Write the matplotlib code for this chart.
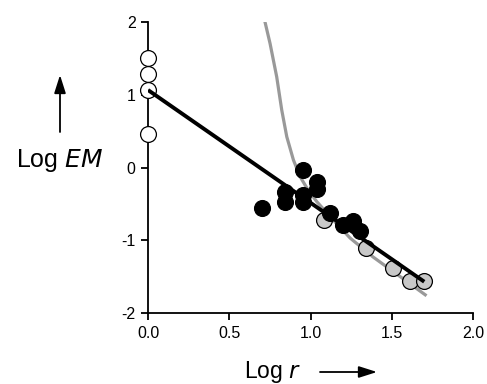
import numpy as np
import matplotlib
matplotlib.use("Agg")
import matplotlib.pyplot as plt

plt.rcParams['font.family'] = ['Liberation Sans', 'DejaVu Sans']

# open circles on the y axis
open_x = [0.0, 0.0, 0.0, 0.0]
open_y = [1.50, 1.29, 1.065, 0.46]

# filled black circles
black_x = [0.70, 0.956, 0.844, 0.844, 0.956, 0.956, 1.043, 1.043, 1.117, 1.203, 1.26, 1.305]
black_y = [-0.55, -0.03, -0.33, -0.47, -0.38, -0.48, -0.195, -0.30, -0.62, -0.79, -0.73, -0.87]

# gray circles
gray_x = [1.08, 1.34, 1.507, 1.613, 1.70]
gray_y = [-0.72, -1.10, -1.385, -1.56, -1.56]

# gray curve
curve_x = [0.710, 0.751, 0.792, 0.823, 0.854, 0.895, 0.936, 0.985, 1.039, 1.139, 1.244, 1.385, 1.552, 1.706]
curve_y = [2.095, 1.706, 1.247, 0.790, 0.423, 0.103, -0.126, -0.309, -0.47, -0.72, -0.97, -1.23, -1.50, -1.75]

# black fit line
fit_x = [0.0, 1.70]
fit_y = [1.065, -1.57]

fig = plt.figure(figsize=(4.87, 3.84), dpi=100)
ax = fig.add_axes([148/487, 1-313/384, 325/487, 291/384])

ax.plot(curve_x, curve_y, color='#999999', lw=2.3, zorder=2, solid_joinstyle='round')
ax.scatter(gray_x, gray_y, s=130, facecolor='#c8c8c8', edgecolor='black', lw=0.9, zorder=3, clip_on=False)
ax.scatter(black_x, black_y, s=130, facecolor='black', edgecolor='black', lw=0.9, zorder=4, clip_on=False)
ax.scatter(open_x, open_y, s=130, facecolor='white', edgecolor='black', lw=0.9, zorder=5, clip_on=False)
ax.plot(fit_x, fit_y, color='black', lw=2.8, zorder=6, solid_capstyle='butt')

ax.set_xlim(0, 2)
ax.set_ylim(-2, 2)
ax.set_xticks([0.0, 0.5, 1.0, 1.5, 2.0])
ax.set_xticklabels(['0.0', '0.5', '1.0', '1.5', '2.0'])
ax.set_yticks([-2, -1, 0, 1, 2])
ax.set_yticklabels(['-2', '-1', '0', '1', '2'])
for s in ['top', 'right']:
    ax.spines[s].set_visible(False)
for s in ['left', 'bottom']:
    ax.spines[s].set_linewidth(1.3)
ax.tick_params(direction='out', length=5, width=1.3, labelsize=11.5, pad=4)

fig.text(60/487, 1-160/384, 'Log $\\it{EM}$', fontsize=18, ha='center', va='center')
fig.text(273/487, 1-372/384, 'Log $\\it{r}$', fontsize=16.5, ha='center', va='center')
ax.annotate('', xy=(60/487, 1-75/384), xytext=(60/487, 1-132/384),
            xycoords='figure fraction', textcoords='figure fraction',
            arrowprops=dict(arrowstyle='-|>,head_length=1.1,head_width=0.35', color='black', lw=1.3,
                            shrinkA=0, shrinkB=0))
ax.annotate('', xy=(377/487, 1-372/384), xytext=(320/487, 1-372/384),
            xycoords='figure fraction', textcoords='figure fraction',
            arrowprops=dict(arrowstyle='-|>,head_length=1.1,head_width=0.35', color='black', lw=1.3,
                            shrinkA=0, shrinkB=0))

fig.savefig('out.png', dpi=100)
